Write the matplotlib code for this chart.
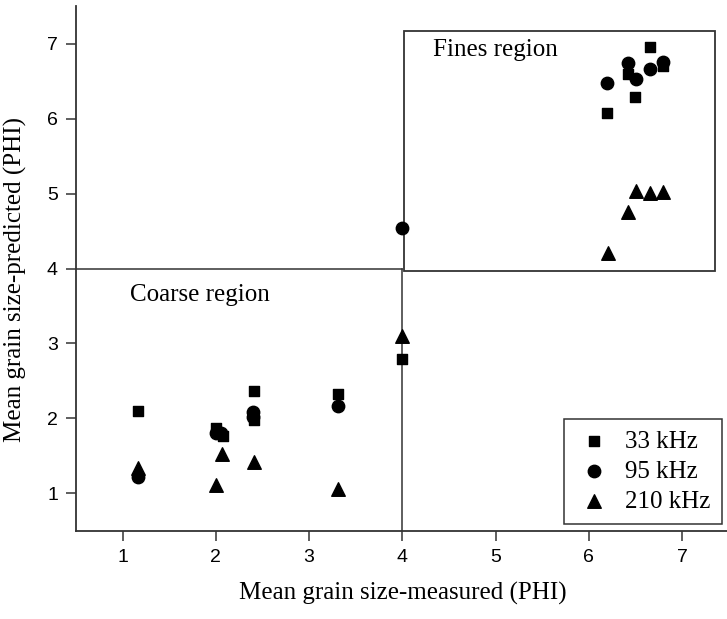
import matplotlib.pyplot as plt
from matplotlib.patches import Rectangle

# measured vs predicted mean grain size (PHI) for each frequency
x_33 = [1.16, 2.00, 2.08, 2.41, 2.41, 3.31, 4.00,
        6.19, 6.42, 6.49, 6.66, 6.79]
y_33 = [2.10, 1.87, 1.76, 2.36, 1.98, 2.33, 2.79,
        6.07, 6.60, 6.29, 6.96, 6.71]

x_95 = [1.16, 2.00, 2.06, 2.40, 2.40, 3.31, 4.00,
        6.19, 6.42, 6.50, 6.66, 6.79]
y_95 = [1.21, 1.80, 1.81, 2.09, 2.02, 2.17, 4.54,
        6.48, 6.75, 6.53, 6.67, 6.76]

x_210 = [1.16, 2.00, 2.07, 2.41, 3.31, 4.00,
         6.20, 6.42, 6.50, 6.66, 6.79]
y_210 = [1.34, 1.11, 1.53, 1.42, 1.05, 3.10,
         4.21, 4.76, 5.03, 5.01, 5.02]

serif = ['Liberation Serif', 'DejaVu Serif']
sans = ['Liberation Sans', 'DejaVu Sans']
edge = '#333333'

fig = plt.figure(figsize=(7.27, 6.19), dpi=100)
ax = fig.add_axes([0.1045, 0.1427, 0.898, 0.847])

ax.scatter(x_33, y_33, marker='s', s=55, color='black', label='33 kHz', zorder=3)
ax.scatter(x_95, y_95, marker='o', s=80, color='black', label='95 kHz', zorder=3)
ax.scatter(x_210, y_210, marker='^', s=95, color='black', label='210 kHz', zorder=3)

# region boundaries
ax.plot([0.5, 4], [4, 4], color=edge, lw=1.1, zorder=2)
ax.plot([4, 4], [0.5, 4], color=edge, lw=1.1, zorder=2)
ax.add_patch(Rectangle((4.02, 3.97), 7.35 - 4.02, 7.17 - 3.97,
                       fill=False, edgecolor=edge, lw=1.3, zorder=2))

ax.text(4.33, 6.92, 'Fines region', family=serif, fontsize=18, va='center')
ax.text(1.08, 3.65, 'Coarse region', family=serif, fontsize=18, va='center')

ax.set_xlim(0.5, 7.5)
ax.set_ylim(0.5, 7.5)
ax.set_xticks(range(1, 8))
ax.set_yticks(range(1, 8))
ax.spines['top'].set_visible(False)
ax.spines['right'].set_visible(False)
for sp in ['left', 'bottom']:
    ax.spines[sp].set_color(edge)
    ax.spines[sp].set_linewidth(1.3)
ax.tick_params(direction='out', length=7, width=1.1, color=edge, labelsize=14, pad=6)
for lab in ax.get_xticklabels() + ax.get_yticklabels():
    lab.set_family(sans)

ax.set_xlabel('Mean grain size-measured (PHI)', family=serif, fontsize=18, labelpad=12)
ax.set_ylabel('Mean grain size-predicted (PHI)', family=serif, fontsize=18)
ax.yaxis.set_label_coords(-0.075, 0.48)

leg = ax.legend(loc='lower right', bbox_to_anchor=(0.989, 0.013), prop={'family': serif, 'size': 18},
                fancybox=False, edgecolor=edge, framealpha=1, handletextpad=0.5,
                handlelength=1.5, borderpad=0.45, labelspacing=0.3, borderaxespad=0)
leg.get_frame().set_linewidth(1.1)

fig.savefig('out.png', dpi=100)
